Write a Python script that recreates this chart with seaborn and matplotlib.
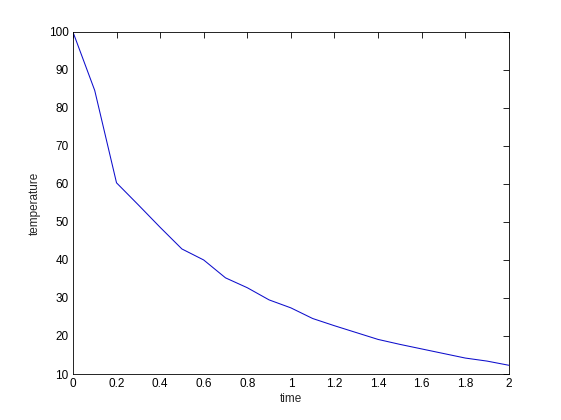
import numpy as np
import pandas as pd
import matplotlib
matplotlib.use("Agg")
import matplotlib.pyplot as plt
import seaborn as sns

# valores
tempo = [0.0, 0.1, 0.2, 0.3, 0.4, 0.5, 0.6, 0.7, 0.8, 0.9, 1.0,
         1.1, 1.2, 1.3, 1.4, 1.5, 1.6, 1.7, 1.8, 1.9, 2.0]
temperatura = [100.0, 84.6, 60.3, 54.5, 48.6, 42.9, 40.0, 35.3, 32.7, 29.5, 27.4,
               24.6, 22.7, 20.9, 19.1, 17.8, 16.6, 15.4, 14.2, 13.4, 12.3]
xticks = [0, 0.2, 0.4, 0.6, 0.8, 1, 1.2, 1.4, 1.6, 1.8, 2]
xticklabels = ["0", "0.2", "0.4", "0.6", "0.8", "1", "1.2", "1.4", "1.6", "1.8", "2"]
yticks = [10, 20, 30, 40, 50, 60, 70, 80, 90, 100]

sns.set_style("white")
plt.rcParams['font.family'] = ['Liberation Sans', 'DejaVu Sans']

df = pd.DataFrame({'time': tempo, 'temperature': temperatura})

fig = plt.figure(figsize=(5.61, 4.2), dpi=100)
ax = fig.add_axes([0.130, 0.1095, 0.777, 0.8145])

sns.lineplot(x='time', y='temperature', data=df, ax=ax, color=(0.05, 0.05, 0.8),
             linewidth=0.75, sort=False)

ax.set_xlim(0, 2)
ax.set_ylim(10, 100)
ax.set_xticks(xticks)
ax.set_xticklabels(xticklabels)
ax.set_yticks(yticks)
ax.tick_params(direction='in', length=4, width=0.6, top=True, right=True,
               labelsize=8.5, colors='black', pad=3)
for s in ax.spines.values():
    s.set_visible(True)
    s.set_color('black')
    s.set_linewidth(0.6)
ax.set_xlabel('time', fontsize=8.5, labelpad=2)
ax.set_ylabel('temperature', fontsize=8.5, labelpad=6)

fig.savefig('out.png', dpi=100, facecolor='white')
